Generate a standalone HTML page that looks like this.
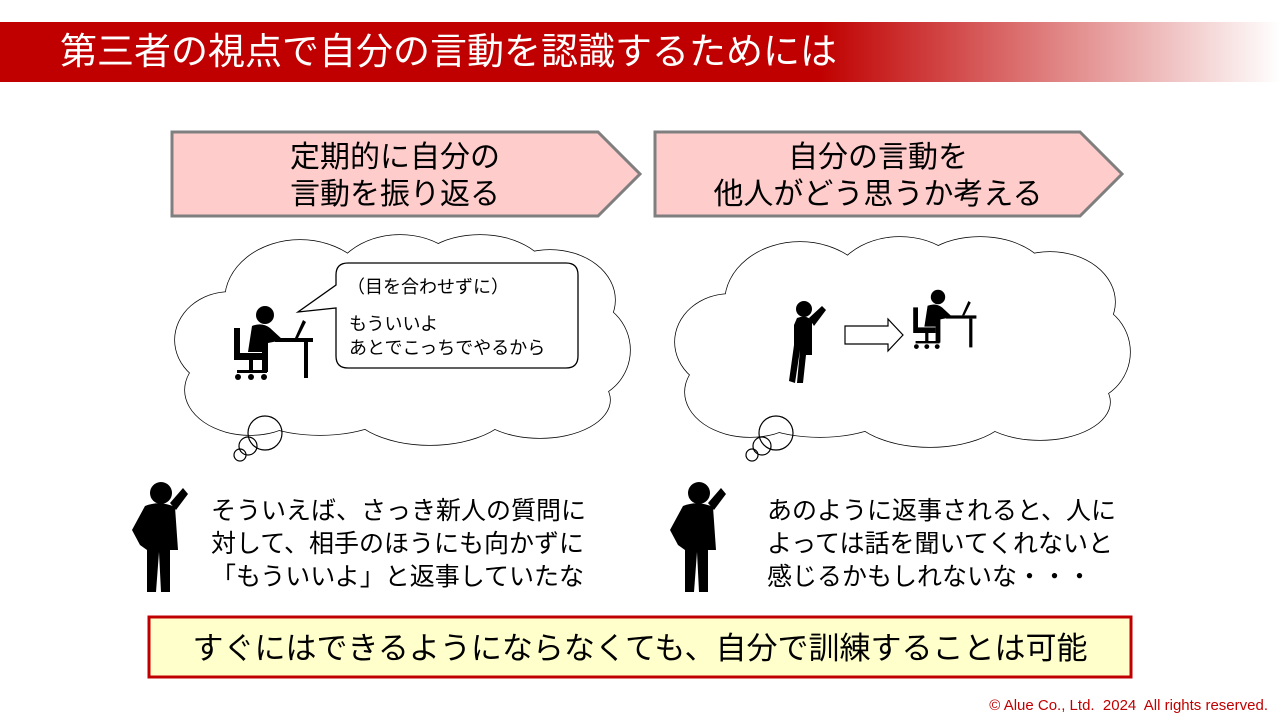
<!DOCTYPE html>
<html><head><meta charset="utf-8"><style>
body{margin:0;width:1280px;height:720px;background:#fff;overflow:hidden;position:relative;font-family:"Liberation Sans","Noto Sans CJK JP",sans-serif;}
.hdr{position:absolute;left:0;top:22px;width:1280px;height:60px;background:linear-gradient(90deg,#c00000 0%,#c00000 64%,#ffffff 100%);}
.hdr span{position:absolute;left:60px;top:9px;color:#fff;font-size:37px;line-height:42px;}
.t{position:absolute;font-size:25px;line-height:33px;color:#000;white-space:nowrap;}
</style></head><body>
<div class="hdr"><span>第三者の視点で自分の言動を認識するためには</span></div>
<svg width="1280" height="720" style="position:absolute;left:0;top:0">
<defs>
<g id="cloudL">
<ellipse cx="230" cy="340" rx="55" ry="48"/><ellipse cx="250" cy="390" rx="65" ry="45"/>
<ellipse cx="300" cy="300" rx="75" ry="60"/><ellipse cx="400" cy="290" rx="70" ry="55"/>
<ellipse cx="480" cy="280" rx="70" ry="45"/><ellipse cx="550" cy="300" rx="65" ry="50"/>
<ellipse cx="580" cy="350" rx="50" ry="50"/><ellipse cx="540" cy="400" rx="70" ry="38"/>
<ellipse cx="430" cy="400" rx="85" ry="45"/><ellipse cx="320" cy="400" rx="80" ry="35"/>
<ellipse cx="400" cy="345" rx="170" ry="70"/>
</g>
<g id="desk" fill="#000">
<circle cx="265" cy="315" r="9"/>
<path d="M252,326 Q262,322 270,328 L283,340 L268,343 L268,372 L262,372 L262,352 L248,352 Z"/>
<rect x="234" y="328" width="6" height="32"/><rect x="240" y="353" width="22" height="7"/>
<rect x="249" y="360" width="4" height="10"/><rect x="237" y="370" width="30" height="3"/>
<circle cx="238" cy="377" r="3"/><circle cx="251" cy="377" r="3"/><circle cx="264" cy="377" r="3"/>
<rect x="275" y="338" width="38" height="4"/><rect x="304" y="342" width="4" height="36"/>
<polygon points="303,320 306,322 298,338 295,338"/>
</g>
<g id="pp" fill="#000">
<circle cx="161" cy="493" r="11"/>
<path d="M145,506 Q160,500 175,507 L178,550 L170,550 L170,592 L161,592 L159,552 L156,592 L147,592 L147,550 L140,545 L132,530 Z"/>
<path d="M170,503 L183,488 L188,494 L176,510 Z"/>
</g>
</defs>
<g stroke="#000" stroke-width="1.5" fill="#fff"><use href="#cloudL"/></g>
<g fill="#fff" stroke="none"><use href="#cloudL"/></g>
<g stroke="#000" stroke-width="1.5" fill="#fff"><use href="#cloudL" transform="translate(500,2)"/></g>
<g fill="#fff" stroke="none"><use href="#cloudL" transform="translate(500,2)"/></g>
<g stroke="#000" stroke-width="1.2" fill="none">
<circle cx="265" cy="433" r="17"/><circle cx="248" cy="446" r="9"/><circle cx="240" cy="455" r="6"/>
<circle cx="776" cy="433" r="17"/><circle cx="762" cy="446" r="9"/><circle cx="752" cy="455" r="6"/>
</g>
<polygon points="172,132 598,132 640,174 598,216 172,216" fill="#ffcccc" stroke="#7f7f7f" stroke-width="3"/>
<polygon points="655,132 1080,132 1122,174 1080,216 655,216" fill="#ffcccc" stroke="#7f7f7f" stroke-width="3"/>
<path d="M348,263 H566 Q578,263 578,275 V356 Q578,368 566,368 H348 Q336,368 336,356 V308 L298,312 L336,285 V275 Q336,263 348,263 Z" fill="#fff" stroke="#000" stroke-width="1.3"/>
<use href="#desk"/>
<use href="#desk" transform="translate(726,45) scale(0.8)"/>
<g fill="#000">
<circle cx="804" cy="309" r="8"/>
<path d="M797,318 Q808,314 812,322 L812,355 L806,355 L803,383 L797,383 L800,350 L795,383 L789,381 L794,345 L794,325 Z"/>
<path d="M809,318 L822,306 L826,310 L814,326 Z"/>
</g>
<path d="M845,326 H888 V319 L903,335 L888,351 V344 H845 Z" fill="#fff" stroke="#000" stroke-width="1.2"/>
<use href="#pp"/>
<use href="#pp" transform="translate(538,0)"/>
<rect x="149" y="617" width="982" height="60" fill="#ffffcc" stroke="#c00000" stroke-width="3"/>
</svg>
<div class="t" style="left:172px;top:139px;width:446px;text-align:center;font-size:30px;line-height:37px">定期的に自分の<br>言動を振り返る</div>
<div class="t" style="left:655px;top:139px;width:446px;text-align:center;font-size:30px;line-height:37px">自分の言動を<br>他人がどう思うか考える</div>
<div class="t" style="left:347px;top:275px;font-size:18px;line-height:24px">（目を合わせずに）</div>
<div class="t" style="left:349px;top:312px;font-size:18px;line-height:24px">もういいよ<br>あとでこっちでやるから</div>
<div class="t" style="left:211px;top:495px">そういえば、さっき新人の質問に<br>対して、相手のほうにも向かずに<br>「もういいよ」と返事していたな</div>
<div class="t" style="left:767px;top:495px">あのように返事されると、人に<br>よっては話を聞いてくれないと<br>感じるかもしれないな・・・</div>
<div class="t" style="left:149px;top:629px;width:982px;text-align:center;font-size:31px;line-height:40px">すぐにはできるようにならなくても、自分で訓練することは可能</div>
<div class="t" style="right:12px;top:696px;font-size:15px;line-height:20px;color:#c00000">© Alue Co., Ltd.&nbsp; 2024&nbsp; All rights reserved.</div>
</body></html>
